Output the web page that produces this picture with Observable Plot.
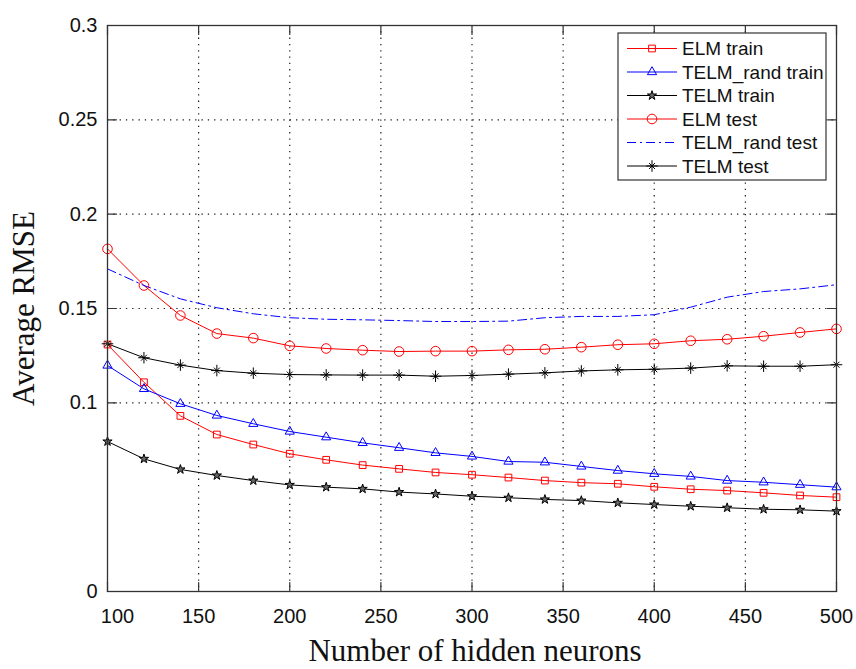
<!DOCTYPE html>
<html>
<head>
<meta charset="utf-8">
<script src="https://cdn.jsdelivr.net/npm/d3@7"></script>
<script src="https://cdn.jsdelivr.net/npm/@observablehq/plot@0.6"></script>
<style>
  body { margin: 0; background: #fff; }
  #chart { width: 856px; height: 669px; color: #111; }
</style>
</head>
<body>
<div id="chart"></div>
<script>
// ---------- data ----------
const neurons = [100,120,140,160,180,200,220,240,260,280,300,320,340,360,380,400,420,440,460,480,500];
const elmTrain      = [0.1309,0.1109,0.0931,0.0832,0.0779,0.0730,0.0698,0.0670,0.0650,0.0631,0.0619,0.0604,0.0588,0.0577,0.0571,0.0555,0.0542,0.0535,0.0523,0.0509,0.0500];
const telmRandTrain = [0.1198,0.1074,0.0995,0.0933,0.0889,0.0848,0.0818,0.0788,0.0762,0.0735,0.0716,0.0689,0.0685,0.0663,0.0641,0.0624,0.0610,0.0588,0.0579,0.0566,0.0553];
const telmTrain     = [0.0795,0.0703,0.0647,0.0615,0.0588,0.0565,0.0553,0.0544,0.0527,0.0517,0.0505,0.0497,0.0488,0.0482,0.0470,0.0461,0.0452,0.0444,0.0436,0.0433,0.0426];
const elmTest       = [0.1816,0.1622,0.1463,0.1367,0.1343,0.1302,0.1288,0.1279,0.1272,0.1274,0.1274,0.1281,0.1284,0.1295,0.1308,0.1313,0.1329,0.1337,0.1353,0.1373,0.1392];
const telmRandTest  = [0.1710,0.1622,0.1551,0.1504,0.1472,0.1451,0.1443,0.1440,0.1436,0.1431,0.1431,0.1433,0.1451,0.1458,0.1458,0.1467,0.1507,0.1560,0.1590,0.1604,0.1626];
const telmTest      = [0.1313,0.1239,0.1200,0.1171,0.1157,0.1150,0.1148,0.1147,0.1147,0.1141,0.1145,0.1152,0.1159,0.1169,0.1175,0.1178,0.1184,0.1196,0.1194,0.1194,0.1202];
const seriesNames = ["ELM train","TELM_rand train","TELM train","ELM test","TELM_rand test","TELM test"];
const xTicks = [100,150,200,250,300,350,400,450,500];
const yTicks = [0,0.1,0.15,0.2,0.25,0.3];
const xTitle = "Number of hidden neurons";
const yTitle = "Average RMSE";

// ---------- styles ----------
const sans = "'Liberation Sans', Arial, Helvetica, sans-serif";
const serif = "'Liberation Serif', 'Times New Roman', Times, serif";
const gridStyle = {stroke: "#000", strokeOpacity: 0.9, strokeWidth: 1.2, strokeDasharray: "1.3,5"};
const axisColor = "#333";
const rows = vals => neurons.map((x, i) => ({x, y: vals[i]}));

const styles = [
  {values: elmTrain,      color: "red",  dash: null, marks: [{symbol: "square",   r: 3.8, fill: "none"}]},
  {values: telmRandTrain, color: "blue", dash: null, marks: [{symbol: "triangle", r: 3.4, fill: "none"}]},
  {values: telmTrain,     color: "#000", dash: null, marks: [{symbol: "star",     r: 2.9, fill: "#666"}]},
  {values: elmTest,       color: "red",  dash: null, marks: [{symbol: "circle",   r: 4.8, fill: "none"}]},
  {values: telmRandTest,  color: "blue", dash: "9,4,2,4", marks: []},
  {values: telmTest,      color: "#000", dash: null, marks: [{symbol: "plus", r: 3.8, fill: "none"}, {symbol: "times", r: 2.8, fill: "none"}]}
];

const tickShape = {draw(ctx, l) { ctx.moveTo(0, 0); ctx.lineTo(0, -l); }};
const tickOpts = {length: 9, anchor: "start", shape: tickShape, stroke: axisColor, strokeWidth: 1.2};

const seriesMarks = [];
for (const s of styles) {
  seriesMarks.push(Plot.line(rows(s.values), {x: "x", y: "y", stroke: s.color, strokeWidth: 1, strokeDasharray: s.dash}));
}
for (const s of styles) {
  for (const m of s.marks) {
    seriesMarks.push(Plot.dot(rows(s.values), {x: "x", y: "y", symbol: m.symbol, r: m.r, stroke: s.color, fill: m.fill, strokeWidth: 1}));
  }
}

const plot = Plot.plot({
  width: 856,
  height: 669,
  marginLeft: 107,
  marginRight: 20,
  marginTop: 25,
  marginBottom: 78,
  style: {fontFamily: sans, background: "#fff", color: "#111"},
  x: {domain: [100, 500]},
  y: {domain: [0, 0.3]},
  marks: [
    Plot.gridX(xTicks.slice(1, -1), gridStyle),
    Plot.gridY(yTicks.slice(1, -1), gridStyle),
    ...seriesMarks,
    Plot.frame({stroke: axisColor, strokeWidth: 1.3}),
    Plot.vector(xTicks, {x: d => d, frameAnchor: "bottom", rotate: 0, ...tickOpts}),
    Plot.vector(xTicks, {x: d => d, frameAnchor: "top", rotate: 180, ...tickOpts}),
    Plot.vector(yTicks, {y: d => d, frameAnchor: "left", rotate: 90, ...tickOpts}),
    Plot.vector(yTicks, {y: d => d, frameAnchor: "right", rotate: 270, ...tickOpts}),
    Plot.axisY(yTicks, {tickSize: 0, tickPadding: 10, fontSize: 20, fontFamily: sans, tickFormat: d => String(d), label: null}),
    Plot.axisX(xTicks.slice(1), {tickSize: 0, tickPadding: 17, fontSize: 20, fontFamily: sans, tickFormat: d => String(d), label: null}),
    Plot.axisX(xTicks.slice(0, 1), {tickSize: 0, tickPadding: 17, dx: 10, fontSize: 20, fontFamily: sans, tickFormat: d => String(d), label: null}),
    Plot.text([xTitle], {frameAnchor: "bottom", textAnchor: "middle", lineAnchor: "middle", dx: 3, dy: 60, fontSize: 31, fontFamily: serif, fill: "#111"}),
    Plot.text([yTitle], {frameAnchor: "left", textAnchor: "middle", lineAnchor: "middle", dx: -83, rotate: -90, fontSize: 31, fontFamily: serif, fill: "#111"})
  ]
});

document.getElementById("chart").appendChild(plot);

// ---------- legend (inside the axes, top-right) ----------
const svg = d3.select(plot);
const lg = svg.append("g").attr("class", "legend").attr("text-anchor", "start");
const box = {x: 618, y: 33, w: 208, h: 147};
lg.append("rect").attr("x", box.x).attr("y", box.y).attr("width", box.w).attr("height", box.h)
  .attr("fill", "#fff").attr("stroke", axisColor).attr("stroke-width", 1.2);
const symbolTypes = {square: d3.symbolSquare, triangle: d3.symbolTriangle, star: d3.symbolStar, circle: d3.symbolCircle, plus: d3.symbolPlus, times: d3.symbolTimes};
seriesNames.forEach((name, i) => {
  const s = styles[i];
  const cy = 48.5 + i * 23.5;
  lg.append("line").attr("x1", 627).attr("x2", 677).attr("y1", cy).attr("y2", cy)
    .attr("stroke", s.color).attr("stroke-width", 1).attr("stroke-dasharray", s.dash);
  for (const m of s.marks) {
    lg.append("path").attr("transform", `translate(652,${cy})`)
      .attr("d", d3.symbol(symbolTypes[m.symbol], Math.PI * m.r * m.r)())
      .attr("fill", m.fill).attr("stroke", s.color).attr("stroke-width", 1);
  }
  lg.append("text").attr("x", 682).attr("y", cy).attr("dy", "0.35em").attr("text-anchor", "start")
    .attr("font-family", sans).attr("font-size", 19).attr("fill", "#111").text(name);
});
</script>
</body>
</html>
